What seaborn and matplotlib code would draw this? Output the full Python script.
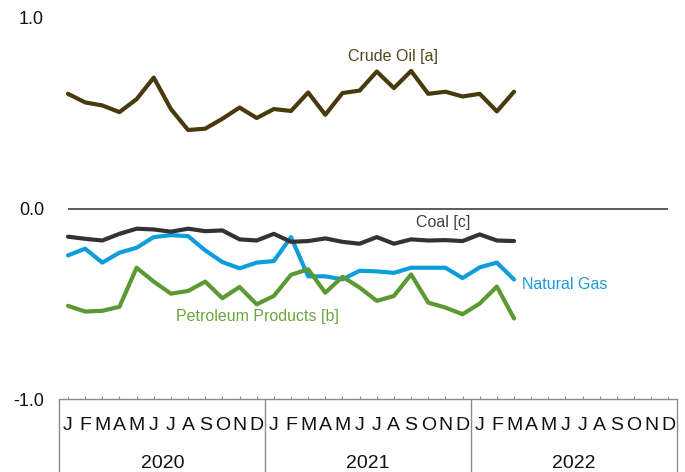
import numpy as np
import pandas as pd
import matplotlib
matplotlib.use("Agg")
import matplotlib.pyplot as plt
import matplotlib.transforms as mtransforms
import seaborn as sns

# monthly values, Jan 2020 - Mar 2022
crude_oil = [0.602, 0.557, 0.541, 0.506, 0.574, 0.687, 0.522, 0.412, 0.419, 0.471,
             0.530, 0.475, 0.522, 0.512, 0.609, 0.492, 0.606, 0.619, 0.719, 0.632,
             0.722, 0.602, 0.613, 0.588, 0.602, 0.510, 0.613]
coal = [-0.148, -0.159, -0.168, -0.133, -0.106, -0.110, -0.122, -0.106, -0.119, -0.115,
        -0.162, -0.168, -0.133, -0.175, -0.171, -0.157, -0.175, -0.185, -0.150, -0.185,
        -0.162, -0.168, -0.166, -0.171, -0.136, -0.168, -0.171]
natural_gas = [-0.246, -0.211, -0.284, -0.232, -0.206, -0.150, -0.140, -0.145, -0.220, -0.281,
               -0.314, -0.284, -0.276, -0.150, -0.356, -0.356, -0.372, -0.327, -0.330, -0.338,
               -0.311, -0.311, -0.311, -0.365, -0.309, -0.284, -0.373]
petroleum = [-0.511, -0.541, -0.537, -0.516, -0.311, -0.384, -0.447, -0.433, -0.384, -0.471,
             -0.412, -0.503, -0.459, -0.348, -0.319, -0.442, -0.358, -0.415, -0.485, -0.459,
             -0.346, -0.494, -0.520, -0.555, -0.499, -0.410, -0.577]

month_letters = ["J", "F", "M", "A", "M", "J", "J", "A", "S", "O", "N", "D"]
years = ["2020", "2021", "2022"]
y_ticks = [-1.0, 0.0, 1.0]
y_labels = ["-1.0", "0.0", "1.0"]

sns.set_style("white")
plt.rcParams["font.family"] = ["Liberation Sans", "DejaVu Sans"]

fig = plt.figure(figsize=(6.85, 4.72), dpi=100)
ax = fig.add_axes([59.4 / 685, 73 / 472, 617.6 / 685, 381 / 472])

idx = np.arange(len(crude_oil))
df = pd.DataFrame({"month": idx, "Crude Oil": crude_oil, "Coal": coal,
                   "Natural Gas": natural_gas, "Petroleum": petroleum})

ax.hlines(0, 0, 35, color="#404040", lw=1.2, zorder=1)

sns.lineplot(data=df, x="month", y="Natural Gas", color="#0d9ddb", lw=3, ax=ax)
sns.lineplot(data=df, x="month", y="Petroleum", color="#5b9a32", lw=3, ax=ax)
sns.lineplot(data=df, x="month", y="Coal", color="#333333", lw=3, ax=ax)
sns.lineplot(data=df, x="month", y="Crude Oil", color="#483a0c", lw=3, ax=ax)

# series labels
ax.text(18.95, 0.80, "Crude Oil [a]", color="#54461c", fontsize=11.5, ha="center", va="center")
ax.text(21.9, -0.073, "Coal [c]", color="#404040", fontsize=11.5, ha="center", va="center")
ax.text(26.45, -0.398, "Natural Gas", color="#1a9ad6", fontsize=11.5, ha="left", va="center")
ax.text(11.05, -0.565, "Petroleum Products [b]", color="#6aa63c", fontsize=11.5,
        ha="center", va="center")

ax.set_xlim(-0.5, 35.5)
ax.set_ylim(-1, 1)
ax.set_xlabel("")
ax.set_ylabel("")

for s in ["top", "right", "left"]:
    ax.spines[s].set_visible(False)
ax.spines["bottom"].set_color("#8c8c8c")
ax.spines["bottom"].set_linewidth(1)

ax.set_yticks(y_ticks)
ax.set_yticklabels(y_labels)
ax.tick_params(axis="y", length=0, pad=11, labelsize=13, labelcolor="#111111")

ax.set_xticks(np.arange(36))
ax.set_xticklabels(month_letters * 3)
ax.tick_params(axis="x", which="major", bottom=True, direction="in", length=2.5, width=0.8,
               color="#8c8c8c", pad=13, labelsize=14, labelcolor="#111111")
ax.set_xticks([-0.5, 11.5, 23.5, 35.5], minor=True)
ax.tick_params(axis="x", which="minor", bottom=True, direction="out", length=55, width=1,
               color="#8c8c8c")

trans = mtransforms.blended_transform_factory(ax.transData, ax.transAxes)
for i, yr in enumerate(years):
    ax.text(5.5 + 12 * i, -0.17, yr, transform=trans, ha="center", va="center",
            fontsize=14, color="#111111")

plt.savefig("out.png", dpi=100)
